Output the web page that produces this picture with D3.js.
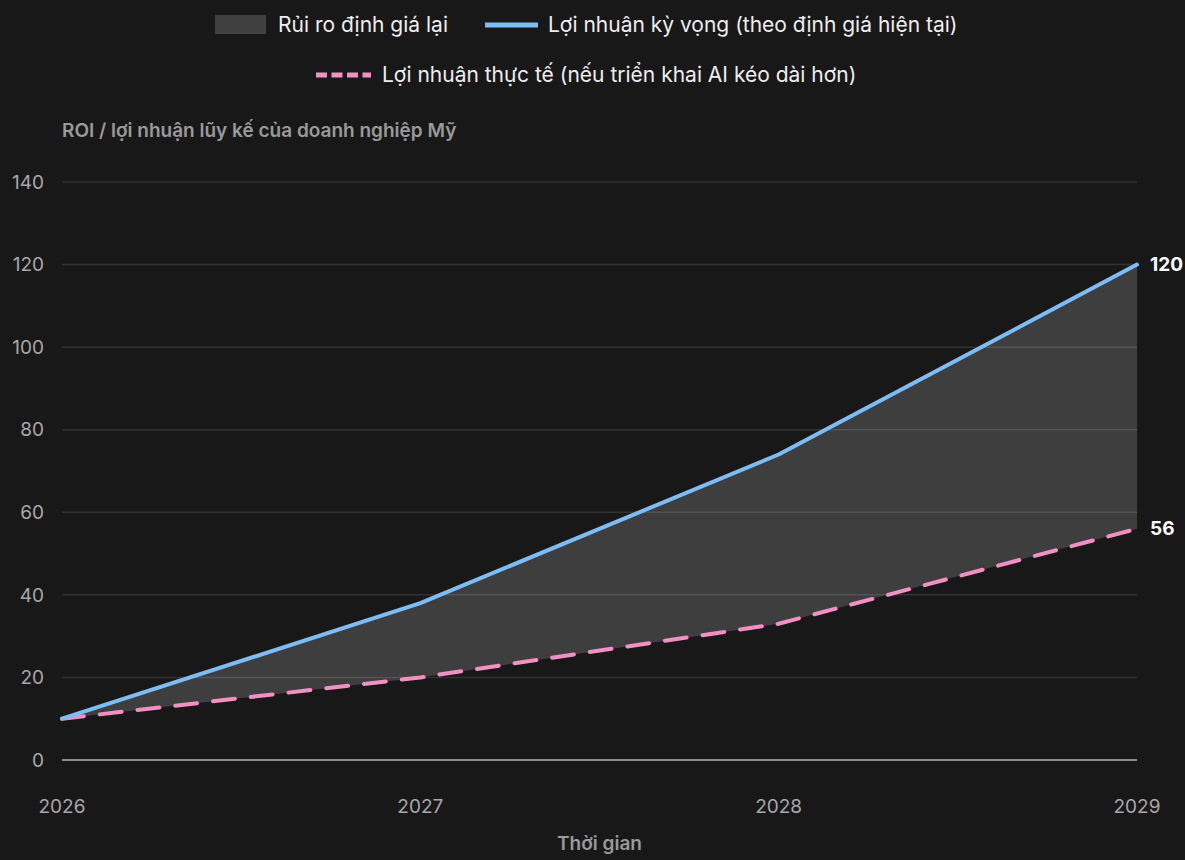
<!DOCTYPE html>
<html><head><meta charset="utf-8">
<script src="https://cdn.jsdelivr.net/npm/d3@7/dist/d3.min.js"></script>
<style>
html,body{margin:0;padding:0;background:#181818;}
svg{display:block;font-family:Inter,"Noto Sans",sans-serif;}
</style></head>
<body>
<svg id="c" width="1185" height="860"></svg>
<script>
const years = [2026, 2027, 2028, 2029];
const expected = [10, 38, 74, 120];
const actual = [10, 20, 33, 56];
const yTicks = [0, 20, 40, 60, 80, 100, 120, 140];
const labels = {
  area: "Rủi ro định giá lại",
  expected: "Lợi nhuận kỳ vọng (theo định giá hiện tại)",
  actual: "Lợi nhuận thực tế (nếu triển khai AI kéo dài hơn)",
  yTitle: "ROI / lợi nhuận lũy kế của doanh nghiệp Mỹ",
  xTitle: "Thời gian"
};

const svg = d3.select("#c");
const W = 1185, H = 860;
const m = {left: 62, right: 48, top: 182, bottom: 100};
const x = d3.scaleLinear().domain([2026, 2029]).range([m.left, W - m.right]);
const y = d3.scaleLinear().domain([0, 140]).range([H - m.bottom, m.top]);

const data = years.map((yr, i) => ({yr, e: expected[i], a: actual[i]}));

// grid
svg.append("g").selectAll("line").data(yTicks.filter(t => t > 0)).join("line")
  .attr("x1", x(2026)).attr("x2", x(2029))
  .attr("y1", d => y(d)).attr("y2", d => y(d))
  .attr("stroke", "rgba(255,255,255,0.11)").attr("stroke-width", 1.5);

// area
svg.append("path").datum(data)
  .attr("d", d3.area().x(d => x(d.yr)).y0(d => y(d.a)).y1(d => y(d.e)))
  .attr("fill", "rgba(255,255,255,0.17)");

// zero line
svg.append("line").attr("x1", x(2026)).attr("x2", x(2029))
  .attr("y1", y(0)).attr("y2", y(0))
  .attr("stroke", "#8a8a8a").attr("stroke-width", 2);

// y tick labels
svg.selectAll("text.yt").data(yTicks).join("text")
  .attr("x", 44).attr("y", d => y(d)).attr("dy", "0.35em")
  .attr("text-anchor", "end").attr("fill", "#a8a8a8").attr("font-size", 19)
  .text(d => d);

// x tick labels
svg.selectAll("text.xt").data(years).join("text")
  .attr("x", d => x(d)).attr("y", 806).attr("dy", "0.35em")
  .attr("text-anchor", "middle").attr("fill", "#a8a8a8").attr("font-size", 19)
  .text(d => d);

// titles
svg.append("text").attr("x", 62).attr("y", 130).attr("dy", "0.35em")
  .attr("fill", "#9a9a9a").attr("font-size", 19).attr("font-weight", 600)
  .text(labels.yTitle);
svg.append("text").attr("x", (x(2026) + x(2029)) / 2).attr("y", 843).attr("dy", "0.35em")
  .attr("text-anchor", "middle").attr("fill", "#9a9a9a").attr("font-size", 19).attr("font-weight", 600)
  .text(labels.xTitle);

// lines
const blue = "#7dbdf7", pink = "#f28fc3";
svg.append("path").datum(data)
  .attr("d", d3.line().x(d => x(d.yr)).y(d => y(d.a)))
  .attr("fill", "none").attr("stroke", pink).attr("stroke-width", 4)
  .attr("stroke-dasharray", "22,16").attr("stroke-linecap", "round");
svg.append("path").datum(data)
  .attr("d", d3.line().x(d => x(d.yr)).y(d => y(d.e)))
  .attr("fill", "none").attr("stroke", blue).attr("stroke-width", 4)
  .attr("stroke-linecap", "round").attr("stroke-linejoin", "round");

// end labels
const last = data[data.length - 1];
[last.e, last.a].forEach(v => {
  svg.append("text").attr("x", x(2029) + 13).attr("y", y(v)).attr("dy", "0.35em")
    .attr("fill", "#ffffff").attr("font-size", 19).attr("font-weight", 700).text(v);
});

// legend
const lg = svg.append("g").attr("font-size", 21).attr("fill", "#eeeeee");
lg.append("rect").attr("x", 215).attr("y", 15).attr("width", 51).attr("height", 19).attr("fill", "#404040");
lg.append("text").attr("x", 278).attr("y", 25).attr("dy", "0.35em").text(labels.area);
lg.append("line").attr("x1", 485).attr("x2", 538).attr("y1", 25).attr("y2", 25)
  .attr("stroke", blue).attr("stroke-width", 5);
lg.append("text").attr("x", 548).attr("y", 25).attr("dy", "0.35em").text(labels.expected);
lg.append("line").attr("x1", 316).attr("x2", 371).attr("y1", 75).attr("y2", 75)
  .attr("stroke", pink).attr("stroke-width", 5).attr("stroke-dasharray", "11,4.5");
lg.append("text").attr("x", 382).attr("y", 75).attr("dy", "0.35em").text(labels.actual);
</script>
</body></html>
